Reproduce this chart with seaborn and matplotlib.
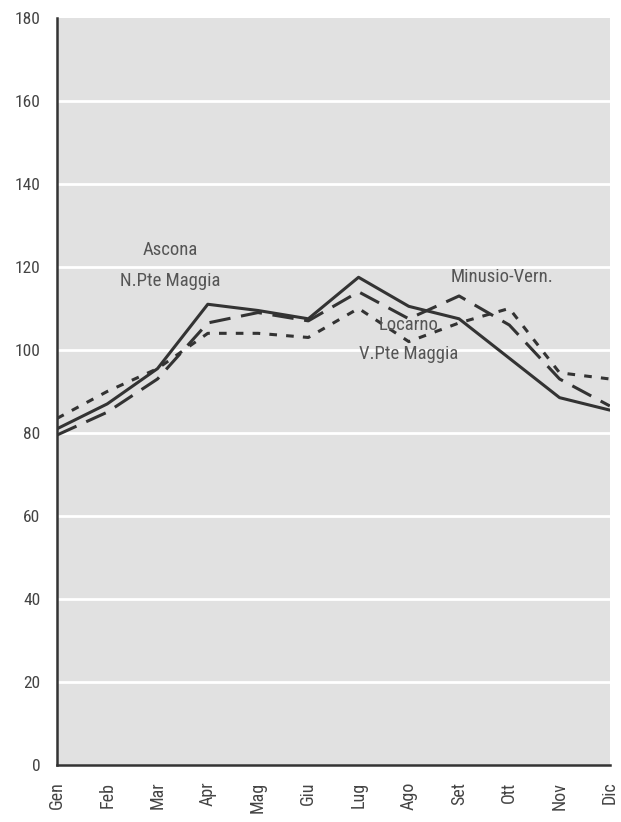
import matplotlib
matplotlib.use("Agg")
import matplotlib.pyplot as plt
from matplotlib import font_manager
import seaborn as sns
import pandas as pd

# ── Data ──────────────────────────────────────────────────────────────────────
months = ["Gen", "Feb", "Mar", "Apr", "Mag", "Giu",
          "Lug", "Ago", "Set", "Ott", "Nov", "Dic"]
ascona  = [81, 87, 95.5, 111, 109.5, 107.5, 117.5, 110.5, 107.5, 98, 88.5, 85.5]
minusio = [79.5, 85, 93, 106.5, 109, 107, 114, 107.5, 113, 106, 93, 86.5]
locarno = [83.5, 90, 95.5, 104, 104, 103, 110, 102, 106.5, 110, 94.5, 93]
y_ticks = [0, 20, 40, 60, 80, 100, 120, 140, 160, 180]

# ── Style ─────────────────────────────────────────────────────────────────────
sns.set_style("white")
names = {f.name for f in font_manager.fontManager.ttflist}
narrow = [n for n in ["Liberation Sans Narrow", "Arial Narrow", "Roboto Condensed",
                      "DejaVu Sans Condensed"] if n in names]
plt.rcParams["font.family"] = narrow + ["DejaVu Sans"]
plt.rcParams["font.stretch"] = "condensed"

ink = "#333333"
fig = plt.figure(figsize=(6.21, 8.22), dpi=100)
ax = fig.add_axes([0.0918, 0.0693, 0.8902, 0.909])
ax.set_facecolor("#e1e1e1")

df = pd.DataFrame({"x": range(len(months)),
                   "Ascona": ascona, "Minusio": minusio, "Locarno": locarno})

sns.lineplot(data=df, x="x", y="Ascona", ax=ax, color=ink, lw=2.2)
sns.lineplot(data=df, x="x", y="Minusio", ax=ax, color=ink, lw=2.2).lines[-1].set_dashes((7, 3.5))
sns.lineplot(data=df, x="x", y="Locarno", ax=ax, color=ink, lw=2.2).lines[-1].set_dashes((2.5, 3))

# white gridlines
for v in y_ticks[1:-1]:
    ax.axhline(v, color="white", lw=2, zorder=0.5)

ax.set_xlim(0, len(months) - 1)
ax.set_ylim(0, 180)
ax.set_xticks(range(len(months)))
ax.set_xticklabels(months, rotation=90, fontsize=13, color="#444444")
ax.set_yticks(y_ticks)
ax.set_yticklabels(y_ticks, fontsize=12.5, color="#444444")
ax.set_xlabel("")
ax.set_ylabel("")

for s in ["top", "right"]:
    ax.spines[s].set_visible(False)
for s in ["left", "bottom"]:
    ax.spines[s].set_color(ink)
    ax.spines[s].set_linewidth(1.8)
ax.tick_params(axis="both", length=8, width=1.8, color=ink, direction="out", pad=4)

# series labels
lab = dict(fontsize=13.5, color="#555555", ha="center", va="center")
ax.text(2.25, 124, "Ascona", **lab)
ax.text(2.25, 116.5, "N.Pte Maggia", **lab)
ax.text(8.85, 117.5, "Minusio-Vern.", **lab)
ax.text(7.0, 106, "Locarno", **lab)
ax.text(7.0, 99, "V.Pte Maggia", **lab)

fig.savefig("out.png", dpi=100)
